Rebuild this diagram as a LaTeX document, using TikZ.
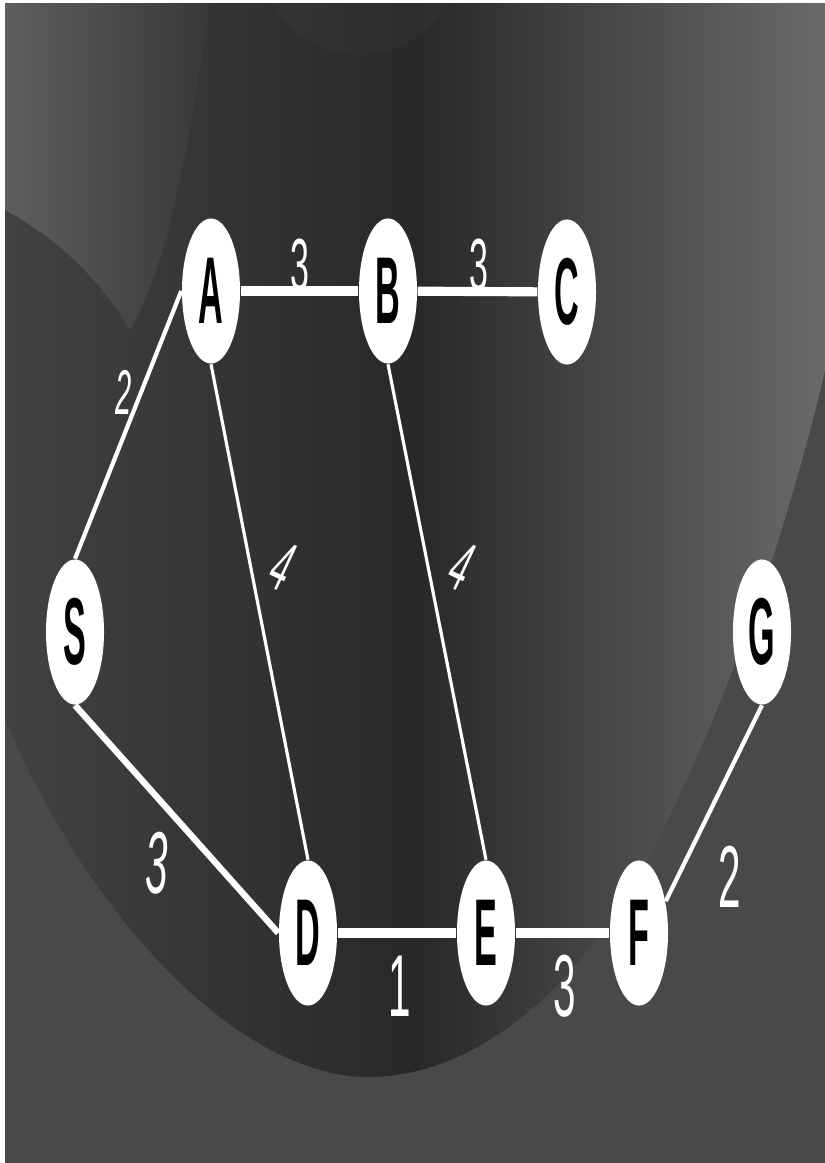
\documentclass[tikz,border=0pt]{standalone}
\usepackage{fontspec}
\newfontfamily\vertexfont[FakeStretch=0.36]{Liberation Sans Bold}
\newfontfamily\weightfont[FakeStretch=0.46]{Liberation Sans}
\newfontfamily\weightitfont[FakeStretch=0.46]{Liberation Sans Italic}
\usetikzlibrary{shapes.geometric}
\definecolor{cornergray}{RGB}{94,94,94}
\definecolor{centergray}{RGB}{56,56,56}
\definecolor{bowlleft}{RGB}{66,66,66}
\definecolor{bowlmid}{RGB}{40,40,40}
\definecolor{bowlright}{RGB}{106,106,106}
\definecolor{floorgray}{RGB}{73,73,73}

\begin{document}
\begin{tikzpicture}[x=0.01cm, y=-0.01cm,
    vertex/.style={ellipse, fill=white, inner sep=0pt, minimum width=0.58cm,
      minimum height=1.45cm, font=\vertexfont\fontsize{27}{27}\selectfont},
    weight/.style={text=white, inner sep=0pt, font=\weightfont\fontsize{25}{25}\selectfont},
    smallweight/.style={weight, font=\weightfont\fontsize{21}{21}\selectfont},
    wideedge/.style={draw=white, line width=2.6pt},
    broadedge/.style={draw=white, line width=1.8pt},
    midedge/.style={draw=white, line width=1.2pt},
    thinedge/.style={draw=white, line width=0.9pt}]
  \useasboundingbox (0,0) rectangle (825,1163);
  % background
  \fill[white] (0,0) rectangle (825,1163);
  \shade[left color=bowlleft, right color=bowlright, middle color=bowlmid] (5,3) rectangle (825,1163);
  \shade[left color=cornergray, right color=centergray] (5,3) -- (5,210)
    .. controls (60,240) and (100,280) .. (130,330)
    .. controls (170,260) and (190,140) .. (210,3) -- cycle;
  \fill[white, opacity=0.025] (360,-45) circle (100);
  \fill[floorgray] (5,720) .. controls (100,940) and (250,1077) .. (368,1077)
    .. controls (470,1077) and (570,1000) .. (647,861)
    .. controls (720,720) and (780,560) .. (825,371) -- (825,1163) -- (5,1163) -- cycle;

  % vertices
  \node[vertex] (A) at (211,291) {A};
  \node[vertex] (B) at (388,291) {B};
  \node[vertex] (C) at (567,292) {C};
  \node[vertex] (S) at (75,632) {S};
  \node[vertex] (G) at (762,632) {G};
  \node[vertex] (D) at (308,933) {D};
  \node[vertex] (E) at (486,933) {E};
  \node[vertex] (F) at (639,933) {F};

  % edges
  \draw[wideedge] (A) -- (B);
  \draw[wideedge] (B) -- (C);
  \draw[wideedge] (D) -- (E);
  \draw[wideedge] (E) -- (F);
  \draw[midedge] (S.north) -- (A.west);
  \draw[broadedge] (S.south) -- (D.west);
  \draw[thinedge] (A.south) -- (D.north);
  \draw[thinedge] (B.south) -- (E.north);
  \draw[midedge] (F.50) -- (G.south);

  % weights
  \node[smallweight] (wAB) at (300,265) {3};
  \node[smallweight] (wBC) at (479,265) {3};
  \node[smallweight, font=\weightitfont\fontsize{18}{18}\selectfont] (wSA) at (124,392) {2};
  \node[smallweight, rotate=-25, font=\weightfont\fontsize{20}{20}\selectfont] (wAD) at (283,566) {4};
  \node[smallweight, rotate=-25, font=\weightfont\fontsize{20}{20}\selectfont] (wBE) at (462,566) {4};
  \node[weight, font=\weightitfont\fontsize{25}{25}\selectfont] (wSD) at (157,863) {3};
  \node[weight] (wDE) at (400,986) {1};
  \node[weight] (wEF) at (565,986) {3};
  \node[weight] (wFG) at (730,877) {2};
\end{tikzpicture}
\end{document}
